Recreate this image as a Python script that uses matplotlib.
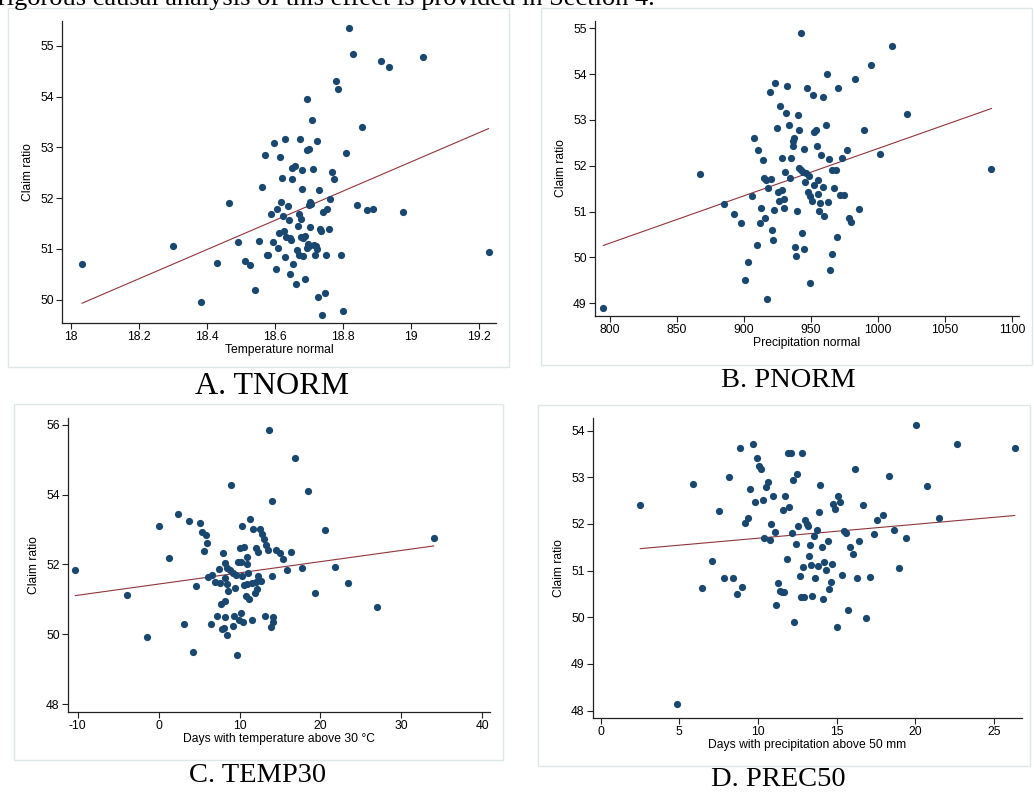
import numpy as np
import matplotlib.pyplot as plt
from matplotlib.patches import Rectangle

# Panel A: temperature normal vs claim ratio
tnorm_x = [18.032, 18.30, 18.382, 18.429, 18.464, 18.49, 18.51, 18.526, 18.539, 18.552,
           18.562, 18.57, 18.575, 18.818, 18.829, 18.910, 18.935, 19.035, 18.779, 18.785,
           18.694, 18.707, 18.855, 18.630, 18.597, 18.673, 18.723, 18.692, 18.699, 18.615,
           18.809, 18.657, 18.650, 18.680, 18.710, 18.621, 18.650, 18.768, 18.773, 18.679,
           18.729, 18.618, 18.637, 18.703, 18.706, 18.700, 18.762, 18.841, 18.869, 18.886,
           18.975, 18.605, 18.587, 18.624, 18.641, 18.671, 18.675, 18.667, 18.740, 18.753,
           18.703, 18.732, 18.735, 18.758, 18.612, 18.626, 18.633, 18.643, 18.647, 18.677,
           18.688, 18.681, 18.593, 18.608, 18.697, 18.700, 18.714, 18.720, 18.722, 18.692,
           18.663, 18.669, 18.682, 18.717, 18.750, 18.792, 18.580, 18.628, 18.653, 18.601,
           18.644, 18.661, 18.687, 18.725, 18.747, 18.738, 18.800, 19.227]
tnorm_y = [50.70, 51.06, 49.95, 50.72, 51.91, 51.14, 50.77, 50.68, 50.19, 51.16,
           52.21, 52.85, 50.88, 55.35, 54.83, 54.71, 54.58, 54.79, 54.31, 54.15,
           53.96, 53.53, 53.41, 53.16, 53.08, 53.17, 53.13, 52.95, 52.97, 52.82,
           52.88, 52.64, 52.59, 52.55, 52.57, 52.40, 52.37, 52.52, 52.37, 52.18,
           52.17, 51.93, 51.84, 51.93, 51.88, 51.86, 51.98, 51.87, 51.77, 51.78,
           51.72, 51.78, 51.69, 51.64, 51.57, 51.68, 51.58, 51.45, 51.72, 51.79,
           51.43, 51.40, 51.35, 51.39, 51.32, 51.35, 51.23, 51.21, 51.18, 51.24,
           51.26, 51.22, 51.13, 51.01, 51.09, 51.05, 51.07, 51.06, 50.99, 51.01,
           50.97, 50.88, 50.86, 50.87, 50.87, 50.87, 50.88, 50.84, 50.70, 50.61,
           50.51, 50.30, 50.40, 50.05, 50.13, 49.69, 49.78, 50.93]
tnorm_fit = [49.93, 53.37]   # fitted line at min / max x

# Panel B: precipitation normal vs claim ratio
pnorm_x = [795.0, 867.1, 885.0, 892.2, 897.4, 900.4, 903.2, 905.9, 907.6, 909.4,
           910.6, 912.1, 912.8, 913.8, 914.6, 915.6, 916.1, 917.3, 918.1, 919.1,
           920.1, 921.1, 921.8, 922.5, 923.3, 924.3, 925.5, 926.3, 927.0, 928.0,
           928.5, 929.5, 930.0, 930.7, 942.2, 1010.8, 994.9, 962.1, 982.9, 932.2,
           947.1, 970.5, 951.4, 959.1, 931.7, 940.2, 1021.7, 933.5, 961.1, 941.0,
           952.4, 953.4, 989.7, 937.2, 936.7, 936.2, 954.1, 944.9, 976.5, 957.8,
           1001.6, 935.0, 963.6, 973.0, 941.2, 942.4, 944.2, 946.2, 948.6, 965.8,
           968.3, 1084.6, 934.0, 945.7, 955.4, 951.9, 958.6, 967.0, 947.6, 954.9,
           949.4, 950.4, 956.8, 962.8, 971.3, 974.7, 956.1, 959.8, 939.4, 985.7,
           978.2, 980.2, 943.2, 969.5, 937.7, 944.4, 938.7, 965.3, 964.3, 949.4]
pnorm_y = [48.89, 51.81, 51.17, 50.95, 50.74, 49.51, 49.89, 51.33, 52.61, 50.26,
           52.34, 50.74, 51.07, 52.13, 51.73, 50.85, 51.69, 49.10, 51.52, 53.62,
           51.70, 50.60, 50.37, 51.04, 53.81, 52.83, 51.43, 51.24, 53.30, 52.16,
           51.47, 51.28, 51.07, 51.86, 54.90, 54.61, 54.21, 54.00, 53.90, 53.74,
           53.70, 53.69, 53.54, 53.49, 53.15, 53.11, 53.13, 52.90, 52.88, 52.79,
           52.74, 52.77, 52.79, 52.60, 52.53, 52.43, 52.43, 52.37, 52.35, 52.23,
           52.25, 52.16, 52.15, 52.16, 51.96, 51.91, 51.87, 51.84, 51.78, 51.91,
           51.91, 51.94, 51.73, 51.65, 51.68, 51.57, 51.54, 51.52, 51.42, 51.39,
           51.33, 51.23, 51.18, 51.21, 51.36, 51.36, 51.02, 50.90, 51.01, 51.06,
           50.86, 50.77, 50.53, 50.45, 50.22, 50.19, 50.02, 50.08, 49.73, 49.45]
pnorm_fit = [50.26, 53.25]

# Panel C: days above 30 C vs claim ratio
temp30_x = [-10.29, -3.94, -1.39, 13.70, 16.88, 8.92, 18.44, 13.99, 2.37, 0.06,
            3.77, 5.09, 11.31, 10.28, 11.72, 12.51, 5.42, 5.83, 12.80, 12.96,
            5.99, 5.66, 1.30, 7.93, 10.03, 10.61, 12.01, 12.30, 13.29, 13.54,
            14.49, 14.98, 15.35, 16.30, 10.94, 9.83, 10.24, 10.86, 8.14, 8.47,
            8.80, 7.44, 15.85, 17.66, 9.17, 6.65, 6.12, 8.26, 9.62, 10.36,
            11.02, 12.22, 14.03, 6.98, 7.60, 8.51, 10.53, 10.86, 11.52, 12.01,
            12.63, 4.63, 9.46, 8.63, 12.10, 11.85, 19.35, 10.82, 11.15, 8.18,
            7.73, 7.23, 8.26, 9.33, 10.12, 9.95, 10.45, 11.60, 13.17, 14.16,
            14.16, 13.83, 3.19, 6.41, 7.89, 8.06, 9.17, 8.39, 4.26, 9.70,
            20.59, 21.78, 23.39, 26.98, 33.99]
temp30_y = [51.83, 51.14, 49.93, 55.85, 55.04, 54.26, 54.11, 53.82, 53.44, 53.09,
            53.24, 53.18, 53.30, 53.11, 53.02, 53.01, 52.93, 52.84, 52.87, 52.74,
            52.61, 52.39, 52.19, 52.33, 52.47, 52.51, 52.47, 52.37, 52.55, 52.40,
            52.40, 52.34, 52.15, 52.35, 52.20, 52.06, 52.08, 52.02, 52.04, 51.91,
            51.83, 51.88, 51.85, 51.89, 51.75, 51.70, 51.65, 51.61, 51.69, 51.67,
            51.77, 51.68, 51.67, 51.50, 51.48, 51.45, 51.42, 51.45, 51.48, 51.51,
            51.53, 51.39, 51.32, 51.25, 51.30, 51.18, 51.17, 51.11, 51.02, 50.96,
            50.88, 50.54, 50.51, 50.54, 50.61, 50.40, 50.35, 50.40, 50.54, 50.49,
            50.35, 50.22, 50.30, 50.29, 50.15, 50.18, 50.23, 49.99, 49.50, 49.40,
            52.98, 51.93, 51.48, 50.78, 52.75]
temp30_fit = [51.11, 52.53]

# Panel D: days with precipitation above 50 mm vs claim ratio
prec50_x = [2.52, 4.86, 5.85, 8.86, 9.67, 9.95, 10.07, 10.20, 11.94, 12.11,
            12.81, 8.14, 9.52, 10.54, 10.65, 9.82, 10.33, 10.96, 11.75, 11.60,
            12.00, 12.24, 12.49, 13.97, 16.16, 15.12, 14.80, 15.25, 14.91, 13.91,
            7.51, 9.37, 9.20, 10.86, 11.07, 13.00, 13.13, 13.17, 12.55, 13.74,
            12.17, 13.55, 15.50, 15.63, 10.41, 10.75, 14.44, 12.41, 13.32, 14.06,
            15.88, 16.03, 16.43, 7.06, 11.83, 13.25, 12.87, 13.38, 13.85, 14.23,
            14.72, 14.33, 12.66, 13.63, 15.35, 16.31, 14.63, 7.85, 8.42, 6.45,
            9.01, 8.65, 11.28, 11.43, 11.54, 11.68, 12.74, 12.96, 13.47, 14.53,
            14.14, 11.15, 15.76, 12.32, 15.01, 20.04, 22.67, 26.34, 18.32, 20.76,
            16.67, 17.94, 17.60, 21.52, 17.37, 18.64, 19.42, 19.00, 17.13, 16.88]
prec50_y = [52.41, 48.15, 52.85, 53.62, 53.72, 53.42, 53.25, 53.18, 53.52, 53.52,
            53.51, 53.01, 52.75, 52.80, 52.90, 52.48, 52.52, 52.60, 52.60, 52.30,
            52.36, 52.94, 53.06, 52.83, 53.17, 52.59, 52.43, 52.47, 52.32, 52.25,
            52.28, 52.13, 52.02, 52.00, 51.82, 52.09, 52.00, 51.96, 51.95, 51.88,
            51.80, 51.74, 51.85, 51.80, 51.69, 51.66, 51.63, 51.58, 51.54, 51.50,
            51.51, 51.35, 51.64, 51.20, 51.25, 51.31, 51.08, 51.12, 51.09, 51.19,
            51.15, 51.01, 50.89, 50.84, 50.90, 50.83, 50.76, 50.83, 50.84, 50.63,
            50.64, 50.50, 50.73, 50.57, 50.55, 50.53, 50.43, 50.43, 50.46, 50.61,
            50.39, 50.27, 50.15, 49.90, 49.80, 54.11, 53.71, 53.63, 53.02, 52.82,
            52.40, 52.20, 52.08, 52.13, 51.78, 51.87, 51.69, 51.06, 50.86, 49.99]
prec50_fit = [51.47, 52.18]

captions = ['A. TNORM', 'B. PNORM', 'C. TEMP30', 'D. PREC50']
xlabels = ['Temperature normal', 'Precipitation normal',
           'Days with temperature above 30 \u00b0C', 'Days with precipitation above 50 mm']
top_line = 'rigorous causal analysis of this effect is provided in Section 4.'

plt.rcParams['font.family'] = ['Liberation Sans', 'DejaVu Sans']

W, H = 1034, 796
fig = plt.figure(figsize=(W / 100, H / 100), dpi=100)
dot_color = '#1a476f'
fit_color = '#90353b'


def box(x0, y0, x1, y1):
    # light frame round each Stata graph region (pixel coords from top-left)
    fig.patches.append(Rectangle((x0 / W, 1 - y1 / H), (x1 - x0) / W, (y1 - y0) / H,
                                 transform=fig.transFigure, fill=False,
                                 edgecolor='#dfe7ea', lw=1.0))


def panel(left, top, right, bottom, x, y, fit, xlim, ylim, xticks, yticks, xlabel):
    ax = fig.add_axes([left / W, 1 - bottom / H, (right - left) / W, (bottom - top) / H])
    ax.scatter(x, y, s=27, color=dot_color, linewidths=0, zorder=3)
    ax.plot([min(x), max(x)], fit, color=fit_color, lw=0.8, zorder=2)
    ax.set_xlim(*xlim)
    ax.set_ylim(*ylim)
    ax.set_xticks(xticks)
    ax.set_xticklabels(['%g' % t for t in xticks])
    ax.set_yticks(yticks)
    for s in ['top', 'right']:
        ax.spines[s].set_visible(False)
    for s in ['left', 'bottom']:
        ax.spines[s].set_color('#222222')
        ax.spines[s].set_linewidth(0.9)
    ax.tick_params(direction='out', length=4, width=0.8, labelsize=8.7, pad=2,
                   color='#222222')
    ax.set_xlabel(xlabel, fontsize=8.7, labelpad=0.5)
    ax.set_ylabel('Claim ratio', fontsize=8.7, labelpad=4)
    return ax


box(8, 8, 509, 367)
box(541, 8, 1032, 365)
box(14, 404, 503, 760)
box(538, 405, 1030, 766)

panel(62, 21, 496, 323, tnorm_x, tnorm_y, tnorm_fit, (17.973, 19.249), (49.54, 55.49),
      [18, 18.2, 18.4, 18.6, 18.8, 19, 19.2], [50, 51, 52, 53, 54, 55], xlabels[0])
panel(595, 21, 1019, 316, pnorm_x, pnorm_y, pnorm_fit, (788.8, 1105.2), (48.72, 55.16),
      [800, 850, 900, 950, 1000, 1050, 1100], [49, 50, 51, 52, 53, 54, 55], xlabels[1])
panel(68, 418, 490, 712, temp30_x, temp30_y, temp30_fit, (-11.2, 40.95), (47.78, 56.19),
      [-10, 0, 10, 20, 30, 40], [48, 50, 52, 54, 56], xlabels[2])
panel(593, 418, 1022, 718, prec50_x, prec50_y, prec50_fit, (-0.49, 26.8), (47.84, 54.27),
      [0, 5, 10, 15, 20, 25], [48, 49, 50, 51, 52, 53, 54], xlabels[3])

serif = ['Liberation Serif', 'DejaVu Serif']
cap_pos = [(272, 387), (788, 381), (258, 776), (778, 779)]
cap_size = [23, 20.5, 20.5, 20.5]
for (cx, cy), cap, fs in zip(cap_pos, captions, cap_size):
    fig.text(cx / W, 1 - cy / H, cap, ha='center', va='center', family=serif, fontsize=fs)
# the line of body text above the figure is cut by the top edge, as in the source page
fig.text(-2 / W, 1 - 5 / H, top_line, ha='left', va='baseline', family=serif, fontsize=19)

fig.savefig('out.png', dpi=100, facecolor='white')
